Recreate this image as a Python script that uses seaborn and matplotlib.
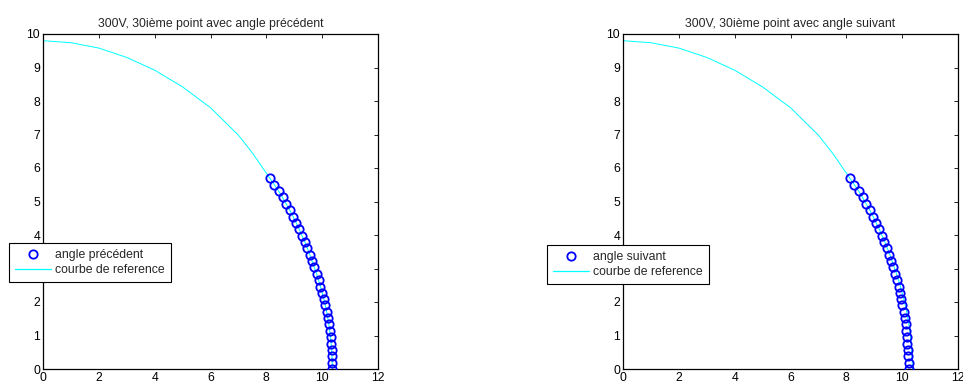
import matplotlib
matplotlib.use("Agg")
import matplotlib.pyplot as plt
import seaborn as sns
import pandas as pd

# Reference curve (cyan), shared by both panels
x_ref = [0.00, 1.00, 2.00, 3.00, 4.00, 5.00, 6.00, 7.00, 7.50,
         8.13, 8.29, 8.44, 8.58, 8.71, 8.84, 8.96, 9.07, 9.18, 9.28, 9.38,
         9.47, 9.56, 9.64, 9.72, 9.80, 9.87, 9.94, 10.00, 10.06, 10.11,
         10.16, 10.20, 10.24, 10.27, 10.30, 10.32, 10.34, 10.35, 10.36, 10.37]
y_ref = [9.80, 9.74, 9.58, 9.30, 8.92, 8.42, 7.80, 6.98, 6.45,
         5.69, 5.50, 5.31, 5.12, 4.93, 4.74, 4.55, 4.36, 4.17, 3.98, 3.79,
         3.60, 3.41, 3.22, 3.03, 2.84, 2.65, 2.46, 2.27, 2.08, 1.90,
         1.71, 1.52, 1.33, 1.14, 0.95, 0.76, 0.57, 0.38, 0.19, 0.00]

# Points, left panel (angle précédent)
y_pts = [5.69, 5.50, 5.31, 5.12, 4.93, 4.74, 4.55, 4.36, 4.17, 3.98, 3.79,
         3.60, 3.41, 3.22, 3.03, 2.84, 2.65, 2.46, 2.27, 2.08, 1.90, 1.71,
         1.52, 1.33, 1.14, 0.95, 0.76, 0.57, 0.38, 0.19, 0.00]
x_prev = [8.13, 8.29, 8.44, 8.58, 8.71, 8.84, 8.96, 9.07, 9.18, 9.28, 9.38,
          9.47, 9.56, 9.64, 9.72, 9.80, 9.87, 9.94, 10.00, 10.06, 10.11, 10.16,
          10.20, 10.24, 10.27, 10.30, 10.32, 10.34, 10.35, 10.36, 10.37]
# Points, right panel (angle suivant)
x_next = [8.13, 8.29, 8.44, 8.58, 8.71, 8.84, 8.95, 9.06, 9.17, 9.27, 9.36,
          9.45, 9.53, 9.61, 9.68, 9.75, 9.81, 9.87, 9.92, 9.97, 10.01, 10.05,
          10.09, 10.12, 10.15, 10.17, 10.19, 10.21, 10.22, 10.23, 10.23]

titles = ["300V, 30ième point avec angle précédent",
          "300V, 30ième point avec angle suivant"]
point_labels = ["angle précédent", "angle suivant"]
ref_label = "courbe de reference"
x_ticks = [0, 2, 4, 6, 8, 10, 12]
y_ticks = [0, 1, 2, 3, 4, 5, 6, 7, 8, 9, 10]

sns.set_style("white")
plt.rcParams["font.family"] = ["Liberation Sans", "DejaVu Sans"]
FS = 8.8
plt.rcParams["font.size"] = FS

fig = plt.figure(figsize=(9.63, 3.85), dpi=100)
ax_pos = [[43 / 963, 16 / 385, 335 / 963, 335 / 385],
          [623 / 963, 16 / 385, 335 / 963, 335 / 385]]
leg_pos = [(9 / 963, 1 - 243 / 385), (547 / 963, 1 - 245 / 385)]

df_ref = pd.DataFrame({"x": x_ref, "y": y_ref})
for i, xp in enumerate([x_prev, x_next]):
    ax = fig.add_axes(ax_pos[i])
    df_pts = pd.DataFrame({"x": xp, "y": y_pts})
    sns.lineplot(data=df_ref, x="x", y="y", ax=ax, color="#00FFFF",
                 linewidth=0.7, sort=False, estimator=None, zorder=2,
                 label=ref_label)
    ax.plot(df_pts["x"], df_pts["y"], linestyle="none", marker="o",
            markersize=6, markerfacecolor="none", markeredgecolor="#0000FF",
            markeredgewidth=1.3, zorder=3, label=point_labels[i])
    ax.set_xlim(0, 12)
    ax.set_ylim(0, 10)
    ax.set_xticks(x_ticks)
    ax.set_yticks(y_ticks)
    ax.set_xlabel("")
    ax.set_ylabel("")
    ax.set_title(titles[i], fontsize=FS, pad=5)
    ax.tick_params(direction="in", length=3, width=0.6, top=True, right=True,
                   labelsize=FS, pad=2, colors="black")
    for s in ax.spines.values():
        s.set_color("black")
        s.set_linewidth(0.9)
    h, l = ax.get_legend_handles_labels()
    leg = ax.legend(h[::-1], l[::-1], loc="upper left", bbox_to_anchor=leg_pos[i],
                    bbox_transform=fig.transFigure, borderaxespad=0, fancybox=False,
                    framealpha=1, edgecolor="black", fontsize=FS, handlelength=2.95,
                    handletextpad=0.35, labelspacing=0.25, borderpad=0.5)
    leg.get_frame().set_linewidth(0.8)
    for ln in leg.get_lines():
        if ln.get_linestyle() not in ("None", "none", ""):
            ln.set_color("#00FFFF")
            ln.set_linewidth(0.9)
    leg.set_zorder(10)

fig.savefig("out.png", dpi=100, facecolor="white")
